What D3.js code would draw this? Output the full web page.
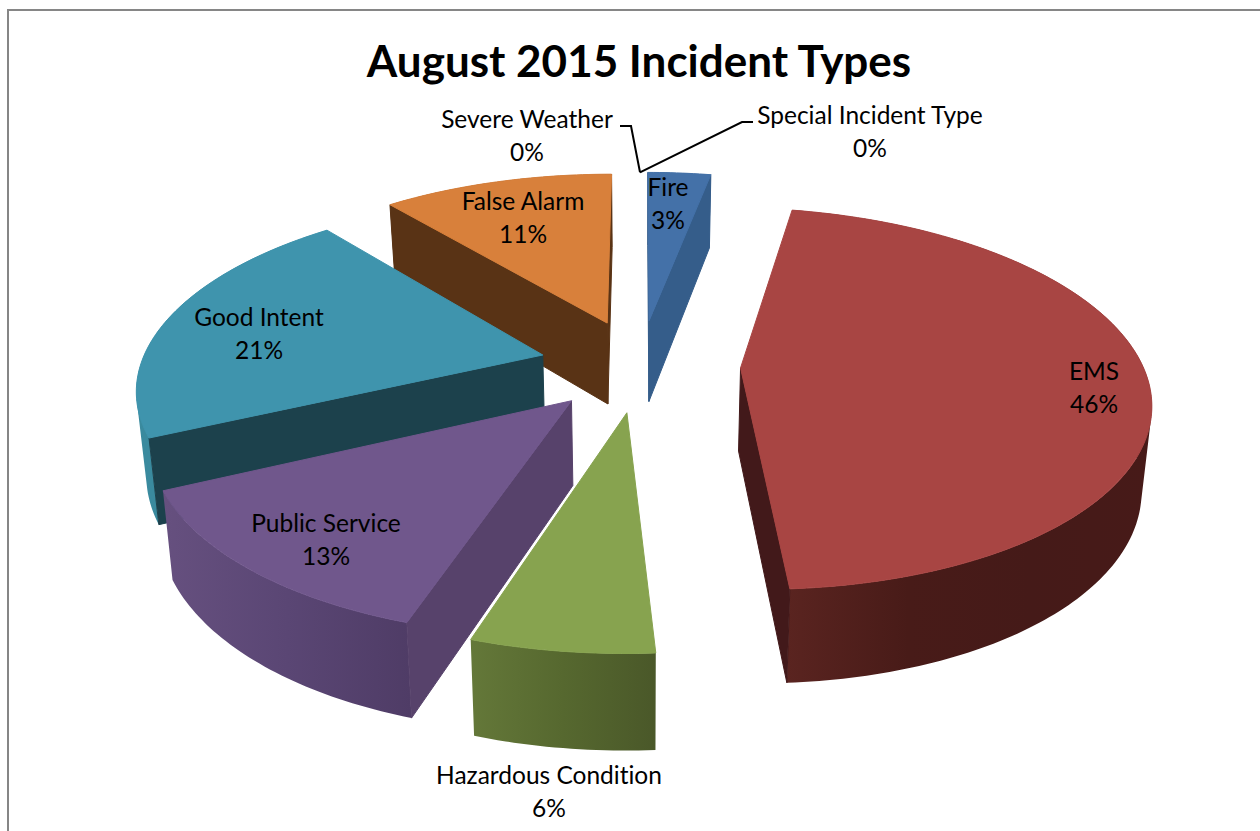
<!DOCTYPE html>
<html>
<head>
<meta charset="utf-8">
<title>August 2015 Incident Types</title>
<script src="https://d3js.org/d3.v7.min.js"></script>
<style>
  html, body { margin: 0; padding: 0; background: #fff; }
  svg { display: block; }
  text { font-family: Lato, "Open Sans", sans-serif; fill: #000; font-variant-ligatures: none; }
</style>
</head>
<body>
<svg id="chart" width="1260" height="831"></svg>
<script>
// Incident shares for the month, clockwise from twelve o'clock.
const categories = ["Fire", "EMS", "Hazardous Condition", "Public Service",
                    "Good Intent", "False Alarm", "Severe Weather", "Special Incident Type"];
const shares = [3, 46, 6, 13, 21, 11, 0, 0];
const topColors = ["#4471a8", "#a84543", "#87a34f", "#70578c", "#3f94ad", "#d8803b", "#4471a8", "#a84543"];
const radialWallColors = ["#355d8a", "#42191a", "#4a5829", "#57426b", "#1c414c", "#593315", "#355d8a", "#42191a"];
// Rim wall shades, left to right across each slice.
const rimShades = [
  ["#355d8a", "#355d8a"],
  ["#5a2420", "#481b18", "#451a18", "#471a18"],
  ["#647839", "#56682f", "#4a5829"],
  ["#66507f", "#5a4674", "#4f3c66"],
  ["#3a8a9e", "#3a8a9e"],
  ["#593315", "#593315"],
  ["#355d8a", "#355d8a"],
  ["#5a2420", "#471a18"]
];
const drawOrder = [0, 5, 4, 3, 2, 1];

// Label centres and the first-line baseline, in page pixels.
const labelX = [668, 1094, 549, 326, 259, 523, 527, 870];
const labelY = [196, 380, 784, 532, 326, 210, 128, 124];
const labelLineGap = 33;

const svg = d3.select("#chart");
const W = 1260, H = 831;

// Gradients for the rim walls live here.
const defs = svg.append("defs");

// Frame of the chart area; it runs off the right and bottom of the page.
svg.append("path")
  .attr("d", `M8,${H}V10H${W}`)
  .attr("fill", "none").attr("stroke", "#868686").attr("stroke-width", 2);

// Perspective camera over the pie: plane units have radius 1.
const camera = { cx: 640, cy: 365, a: 402, b: 185, q: 0.16, depth: 83, depthPower: 0.7, shrink: 0.98 };
const explode = 0.25;

function project(u, v, lower) {
  const w = 1 + camera.q * v;
  const x = camera.a * u / w;
  const y = camera.b * v / w;
  if (!lower) return [camera.cx + x, camera.cy - y];
  return [camera.cx + x * camera.shrink, camera.cy - y + camera.depth / Math.pow(w, camera.depthPower)];
}

const arcs = d3.pie().sort(null).startAngle(0).endAngle(2 * Math.PI)(shares);

// Plane position of a rim point (radius 1) or the apex (radius 0) of an exploded slice.
function planePoint(arc, angle, radius) {
  const mid = (arc.startAngle + arc.endAngle) / 2;
  return [explode * Math.sin(mid) + radius * Math.sin(angle),
          explode * Math.cos(mid) + radius * Math.cos(angle)];
}
const at = (arc, angle, radius, lower) => {
  const [u, v] = planePoint(arc, angle, radius);
  return project(u, v, lower);
};

const line = d3.line();
const STEP = Math.PI / 180;

function rimAngles(arc) {
  const n = Math.max(2, Math.ceil((arc.endAngle - arc.startAngle) / STEP) + 1);
  return d3.range(n).map(i => arc.startAngle + (arc.endAngle - arc.startAngle) * i / (n - 1));
}

// A cut face is seen when the rest of the slice's top lies above its top edge on screen.
function cutFaceVisible(arc, edge) {
  const A = at(arc, edge, 0), P = at(arc, edge, 1);
  const M = at(arc, (arc.startAngle + arc.endAngle) / 2, 1);
  let dx = P[0] - A[0], dy = P[1] - A[1];
  if (dx < 0) { dx = -dx; dy = -dy; }
  return dx * (M[1] - A[1]) - dy * (M[0] - A[0]) < 0;
}

const slices = svg.append("g").attr("class", "slices");

drawOrder.forEach(i => {
  const arc = arcs[i];
  const g = slices.append("g").attr("class", "slice");
  const angles = rimAngles(arc);

  // Rim wall, shaded horizontally. All quads share one path and wind the same way,
  // so neighbours neither cancel out nor leave seams between them.
  const upper = angles.map(a => at(arc, a, 1));
  const lower = angles.map(a => at(arc, a, 1, true));
  const xs = d3.extent(upper.concat(lower), p => p[0]);
  const grad = defs.append("linearGradient")
    .attr("id", `rim-${i}`).attr("gradientUnits", "userSpaceOnUse")
    .attr("x1", xs[0]).attr("x2", xs[1]).attr("y1", 0).attr("y2", 0);
  rimShades[i].forEach((c, k) => grad.append("stop")
    .attr("offset", k / (rimShades[i].length - 1)).attr("stop-color", c));
  const quads = d3.pairs(d3.range(angles.length)).map(([p, n]) => {
    const quad = [upper[p], upper[n], lower[n], lower[p]];
    return line(d3.polygonArea(quad) < 0 ? quad.reverse() : quad) + "Z";
  });
  g.append("path").attr("d", quads.join("")).attr("fill", `url(#rim-${i})`);

  // Straight cut faces run from the apex out to the rim.
  [arc.startAngle, arc.endAngle].filter(edge => cutFaceVisible(arc, edge)).forEach(edge => {
    const pts = [at(arc, edge, 0), at(arc, edge, 1), at(arc, edge, 1, true), at(arc, edge, 0, true)];
    g.append("path").attr("d", line(pts) + "Z")
      .attr("fill", radialWallColors[i]).attr("stroke", radialWallColors[i]).attr("stroke-width", 1);
  });

  // Top face.
  const top = [at(arc, arc.startAngle, 0)].concat(upper);
  g.append("path").attr("d", line(top) + "Z")
    .attr("fill", topColors[i]).attr("stroke", topColors[i]).attr("stroke-width", 1);
});

// Leader lines from the two empty categories down to their common rim point.
const leaderBends = { 6: [[620, 126], [631, 126]], 7: [[753, 122], [742, 122]] };
[6, 7].forEach(i => {
  const tip = at(arcs[i], arcs[i].startAngle, 1);
  svg.append("path")
    .attr("d", line(leaderBends[i].concat([tip])))
    .attr("fill", "none").attr("stroke", "#000").attr("stroke-width", 2);
});

// Title.
svg.append("text")
  .attr("x", 639).attr("y", 77)
  .attr("text-anchor", "middle")
  .attr("font-size", 44).attr("font-weight", 700)
  .text("August 2015 Incident Types");

// Two-line data labels: category name over its share.
const labels = svg.append("g").attr("class", "labels").attr("font-size", 24.5);
categories.forEach((name, i) => {
  const t = labels.append("text").attr("text-anchor", "middle");
  t.append("tspan").attr("x", labelX[i]).attr("y", labelY[i]).text(name);
  t.append("tspan").attr("x", labelX[i]).attr("y", labelY[i] + labelLineGap).text(`${shares[i]}%`);
});
</script>
</body>
</html>
